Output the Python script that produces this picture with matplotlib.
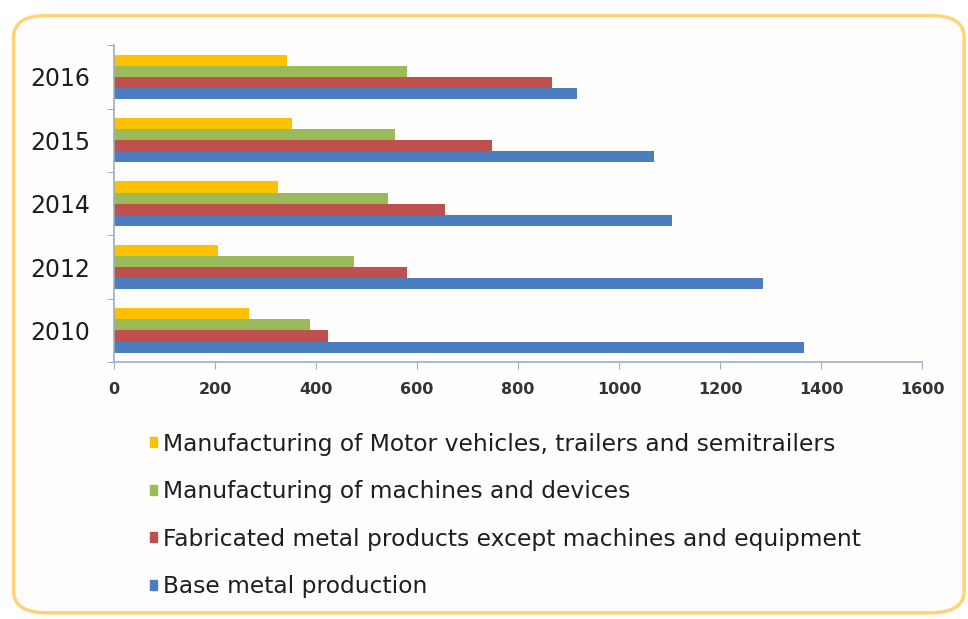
import matplotlib
matplotlib.use("Agg")
import matplotlib.pyplot as plt
import matplotlib.patches as mpatches
import numpy as np

# dados
anos = ["2010", "2012", "2014", "2015", "2016"]
base_metal = [1365, 1284, 1104, 1068, 916]
fabricated = [424, 580, 655, 748, 867]
machines = [388, 475, 543, 556, 580]
motor = [268, 206, 325, 352, 343]

series = [
    ("Base metal production", base_metal, "#4A7EC0"),
    ("Fabricated metal products except machines and equipment", fabricated, "#C0504D"),
    ("Manufacturing of machines and devices", machines, "#9BBB59"),
    ("Manufacturing of Motor vehicles, trailers and semitrailers", motor, "#FFC000"),
]
x_ticks = [0, 200, 400, 600, 800, 1000, 1200, 1400, 1600]

plt.rcParams['font.family'] = ['DejaVu Sans']
cor_texto = "#1E1E1E"
cor_eixo = "#9AB0C8"

fig = plt.figure(figsize=(9.68, 6.19), dpi=100)
fig.patch.set_facecolor("white")

# moldura arredondada
moldura = mpatches.FancyBboxPatch(
    (0.014, 0.01), 0.982, 0.965,
    boxstyle="round,pad=0,rounding_size=0.035",
    transform=fig.transFigure, facecolor="#FFFEFD",
    edgecolor="#FFD37A", linewidth=2.5, zorder=-5)
fig.patches.append(moldura)

ax = fig.add_axes([0.1178, 0.415, 0.835, 0.512])
ax.set_facecolor("none")
ax.set_zorder(2)

y = np.arange(len(anos))
h = 0.175
offsets = [-1.5 * h, -0.5 * h, 0.5 * h, 1.5 * h]
handles = []
for (nome, vals, cor), off in zip(series, offsets):
    ax.barh(y + off, vals, height=h, color=cor, edgecolor="none")
    handles.append(mpatches.Patch(color=cor, label=nome))

ax.set_xlim(0, 1600)
ax.set_ylim(-0.5, len(anos) - 0.5)
ax.set_xticks(x_ticks)
ax.set_xticklabels([str(t) for t in x_ticks], fontsize=11.5,
                   fontweight="bold", color="#333333")

# marcas do eixo y entre as categorias
ax.set_yticks(np.arange(-0.5, len(anos), 1.0))
ax.set_yticklabels([])
ax.set_yticks(y, minor=True)
ax.set_yticklabels(anos, minor=True, fontsize=17, color=cor_texto)
ax.tick_params(axis="y", which="minor", length=0, pad=17)
ax.tick_params(axis="y", which="major", length=5, color=cor_eixo)
ax.tick_params(axis="x", length=5, color=cor_eixo, pad=9)

for lado in ["top", "right"]:
    ax.spines[lado].set_visible(False)
for lado in ["left", "bottom"]:
    ax.spines[lado].set_color(cor_eixo)
    ax.spines[lado].set_linewidth(1.2)

# legenda em ordem inversa (amarelo no topo)
leg = fig.legend(handles=handles[::-1], loc="upper left",
                 bbox_to_anchor=(0.145, 0.316), frameon=False,
                 fontsize=16.8, handlelength=0.3, handleheight=0.3,
                 handletextpad=0.25, labelspacing=1.05, borderaxespad=0,
                 labelcolor=cor_texto)

fig.savefig("out.png", dpi=100, facecolor=fig.get_facecolor())
